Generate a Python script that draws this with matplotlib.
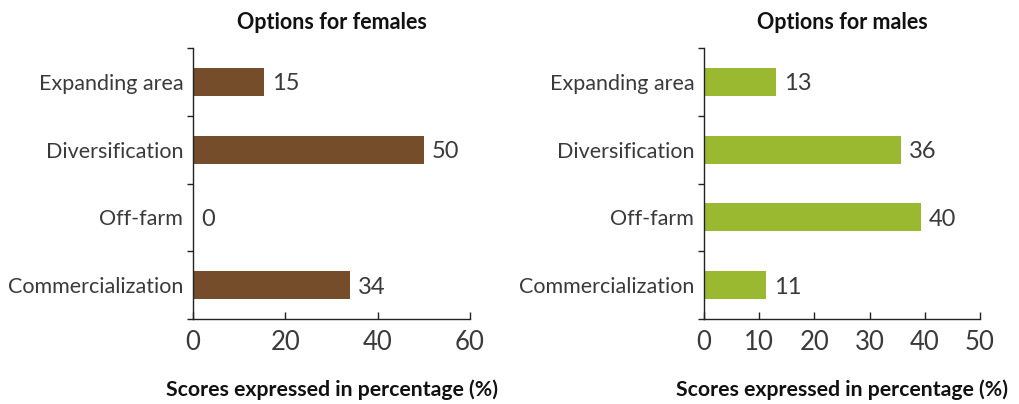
import matplotlib
matplotlib.use("Agg")
import matplotlib.pyplot as plt
from matplotlib.ticker import FixedLocator

categories = ["Expanding area", "Diversification", "Off-farm", "Commercialization"]
female_values = [15.4, 50.0, 0.0, 34.0]
female_labels = ["15", "50", "0", "34"]
male_values = [13.0, 35.7, 39.3, 11.2]
male_labels = ["13", "36", "40", "11"]
female_xticks = [0, 20, 40, 60]
male_xticks = [0, 10, 20, 30, 40, 50]

plt.rcParams['font.family'] = ['Lato', 'DejaVu Sans']
TXT = "#3a3a3a"
W = 'normal'

fig = plt.figure(figsize=(10.2, 4.04), dpi=100)
ax1 = fig.add_axes([193/1020, 1-319/404, 277/1020, 271/404])
ax2 = fig.add_axes([704/1020, 1-319/404, 276/1020, 271/404])

panels = [
    (ax1, female_values, female_labels, female_xticks, "#764D2A", "Options for females"),
    (ax2, male_values, male_labels, male_xticks, "#9BB831", "Options for males"),
]

for ax, vals, labs, xt, col, title in panels:
    y = list(range(len(categories)))
    ax.barh(y, vals, height=0.41, color=col)
    ax.set_ylim(len(categories) - 0.5, -0.5)
    ax.set_xlim(xt[0], xt[-1])
    ax.set_xticks(xt)
    ax.set_xticklabels([str(t) for t in xt], fontsize=18.5, fontweight=W, color=TXT)
    ax.set_yticks(y)
    ax.set_yticklabels(categories, fontsize=15.5, fontweight=W, color=TXT)
    ax.yaxis.set_minor_locator(FixedLocator([i - 0.5 for i in range(len(categories) + 1)]))
    ax.tick_params(axis='y', which='major', length=0, pad=7)
    ax.tick_params(axis='y', which='minor', length=4, width=1, direction='out', color='#222222')
    ax.tick_params(axis='x', which='major', length=5, width=1, direction='in', color='#222222', pad=8)
    for s in ['top', 'right']:
        ax.spines[s].set_visible(False)
    for s in ['left', 'bottom']:
        ax.spines[s].set_color('#222222')
        ax.spines[s].set_linewidth(1)
    span = xt[-1] - xt[0]
    for yi, v, l in zip(y, vals, labs):
        ax.text(v + span * 0.03, yi + 0.03, l, va='center', ha='left', fontsize=17,
                fontweight=W, color=TXT)
    ax.set_title(title, fontsize=15.5, fontweight='bold', color='#111111', pad=14)
    ax.set_xlabel("Scores expressed in percentage (%)", fontsize=15.3,
                  fontweight='bold', color='#111111')
    ax.xaxis.set_label_coords(0.5, (319 - 390) / 271)
    ax.xaxis.label.set_va('center')

fig.savefig("out.png", dpi=100)
